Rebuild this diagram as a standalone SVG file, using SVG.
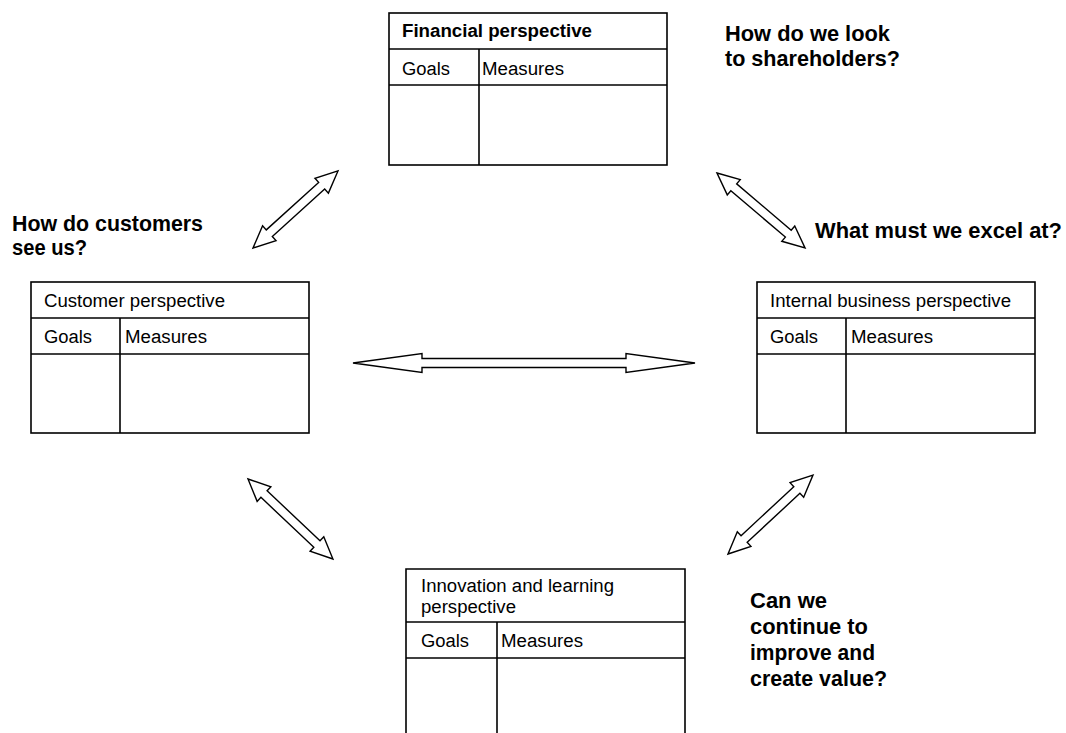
<svg xmlns="http://www.w3.org/2000/svg" width="1066" height="733" viewBox="0 0 1066 733">
  <style>
    .box { fill: #ffffff; stroke: #000000; stroke-width: 1.6; }
    .rule { stroke: #000000; stroke-width: 1.6; fill: none; }
    .t { font-family: "Liberation Sans", Arial, sans-serif; font-size: 18px; fill: #000000; }
    .tb { font-family: "Liberation Sans", Arial, sans-serif; font-size: 18px; font-weight: bold; fill: #000000; }
    .q { font-family: "Liberation Sans", Arial, sans-serif; font-size: 22px; font-weight: bold; fill: #000000; }
    .arrow { fill: #ffffff; stroke: #000000; stroke-width: 1.4; stroke-linejoin: miter; }
  </style>

  <!-- Financial perspective -->
  <g id="financial">
    <rect class="box" x="389" y="13" width="278" height="152"/>
    <line class="rule" x1="389" y1="49" x2="667" y2="49"/>
    <line class="rule" x1="389" y1="85" x2="667" y2="85"/>
    <line class="rule" x1="479" y1="49" x2="479" y2="165"/>
    <text class="tb" x="402" y="37" textLength="190" lengthAdjust="spacingAndGlyphs">Financial perspective</text>
    <text class="t" x="402" y="75" textLength="48" lengthAdjust="spacingAndGlyphs">Goals</text>
    <text class="t" x="482" y="75" textLength="82" lengthAdjust="spacingAndGlyphs">Measures</text>
  </g>

  <!-- Customer perspective -->
  <g id="customer">
    <rect class="box" x="31" y="282" width="278" height="151"/>
    <line class="rule" x1="31" y1="318" x2="309" y2="318"/>
    <line class="rule" x1="31" y1="354" x2="309" y2="354"/>
    <line class="rule" x1="120" y1="318" x2="120" y2="433"/>
    <text class="t" x="44" y="307" textLength="181" lengthAdjust="spacingAndGlyphs">Customer perspective</text>
    <text class="t" x="44" y="343" textLength="48" lengthAdjust="spacingAndGlyphs">Goals</text>
    <text class="t" x="125" y="343" textLength="82" lengthAdjust="spacingAndGlyphs">Measures</text>
  </g>

  <!-- Internal business perspective -->
  <g id="internal">
    <rect class="box" x="757" y="282" width="278" height="151"/>
    <line class="rule" x1="757" y1="318" x2="1035" y2="318"/>
    <line class="rule" x1="757" y1="354" x2="1035" y2="354"/>
    <line class="rule" x1="846" y1="318" x2="846" y2="433"/>
    <text class="t" x="770" y="307" textLength="241" lengthAdjust="spacingAndGlyphs">Internal business perspective</text>
    <text class="t" x="770" y="343" textLength="48" lengthAdjust="spacingAndGlyphs">Goals</text>
    <text class="t" x="851" y="343" textLength="82" lengthAdjust="spacingAndGlyphs">Measures</text>
  </g>

  <!-- Innovation and learning perspective (runs off the lower edge) -->
  <g id="innovation">
    <path class="rule" d="M406,740 V569 H685 V740"/>
    <line class="rule" x1="406" y1="622" x2="685" y2="622"/>
    <line class="rule" x1="406" y1="658" x2="685" y2="658"/>
    <line class="rule" x1="497" y1="622" x2="497" y2="740"/>
    <text class="t" x="421" y="592" textLength="193" lengthAdjust="spacingAndGlyphs">Innovation and learning</text>
    <text class="t" x="421" y="613" textLength="95" lengthAdjust="spacingAndGlyphs">perspective</text>
    <text class="t" x="421" y="647" textLength="48" lengthAdjust="spacingAndGlyphs">Goals</text>
    <text class="t" x="501" y="647" textLength="82" lengthAdjust="spacingAndGlyphs">Measures</text>
  </g>

  <!-- Guiding questions -->
  <g id="questions">
    <text class="q" x="725" y="41" textLength="165" lengthAdjust="spacingAndGlyphs">How do we look</text>
    <text class="q" x="725" y="66" textLength="175" lengthAdjust="spacingAndGlyphs">to shareholders?</text>
    <text class="q" x="12" y="231" textLength="191" lengthAdjust="spacingAndGlyphs">How do customers</text>
    <text class="q" x="12" y="255" textLength="75" lengthAdjust="spacingAndGlyphs">see us?</text>
    <text class="q" x="815" y="238" textLength="247" lengthAdjust="spacingAndGlyphs">What must we excel at?</text>
    <text class="q" x="750" y="608" textLength="77" lengthAdjust="spacingAndGlyphs">Can we</text>
    <text class="q" x="750" y="634" textLength="118" lengthAdjust="spacingAndGlyphs">continue to</text>
    <text class="q" x="750" y="660" textLength="125" lengthAdjust="spacingAndGlyphs">improve and</text>
    <text class="q" x="750" y="686" textLength="137" lengthAdjust="spacingAndGlyphs">create value?</text>
  </g>

  <!-- Double-headed block arrows between perspectives -->
  <g id="connectors">
    <!-- customer <-> financial -->
    <path class="arrow" transform="translate(253,248) rotate(-42.2)"
          d="M0,0 L22,-10 L22,-4.5 L92.7,-4.5 L92.7,-10 L114.7,0 L92.7,10 L92.7,4.5 L22,4.5 L22,10 Z"/>
    <!-- financial <-> internal -->
    <path class="arrow" transform="translate(717,173) rotate(40.4)"
          d="M0,0 L22,-10 L22,-4.5 L93.6,-4.5 L93.6,-10 L115.6,0 L93.6,10 L93.6,4.5 L22,4.5 L22,10 Z"/>
    <!-- customer <-> internal -->
    <path class="arrow"
          d="M353,363 L422,353.5 L422,358.5 L626,358.5 L626,353.5 L695,363 L626,372.5 L626,367.5 L422,367.5 L422,372.5 Z"/>
    <!-- customer <-> innovation -->
    <path class="arrow" transform="translate(248,479) rotate(43.3)"
          d="M0,0 L22,-10 L22,-4.5 L94.7,-4.5 L94.7,-10 L116.7,0 L94.7,10 L94.7,4.5 L22,4.5 L22,10 Z"/>
    <!-- innovation <-> internal -->
    <path class="arrow" transform="translate(728,554) rotate(-42.9)"
          d="M0,0 L22,-10 L22,-4.5 L94,-4.5 L94,-10 L116,0 L94,10 L94,4.5 L22,4.5 L22,10 Z"/>
  </g>
</svg>
